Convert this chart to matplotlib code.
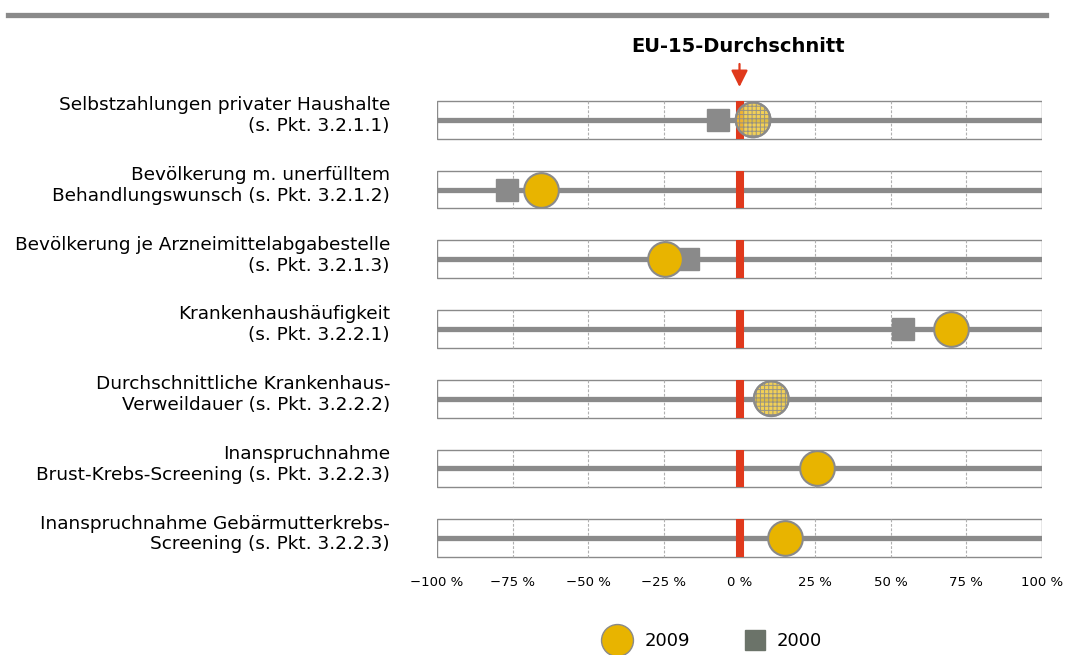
import numpy as np
import matplotlib.pyplot as plt
from matplotlib.lines import Line2D
from matplotlib.patches import Rectangle
import matplotlib.transforms as mtransforms

labels = [
    "Selbstzahlungen privater Haushalte\n(s. Pkt. 3.2.1.1)",
    "Bevölkerung m. unerfülltem\nBehandlungswunsch (s. Pkt. 3.2.1.2)",
    "Bevölkerung je Arzneimittelabgabestelle\n(s. Pkt. 3.2.1.3)",
    "Krankenhaushäufigkeit\n(s. Pkt. 3.2.2.1)",
    "Durchschnittliche Krankenhaus-\nVerweildauer (s. Pkt. 3.2.2.2)",
    "Inanspruchnahme\nBrust-Krebs-Screening (s. Pkt. 3.2.2.3)",
    "Inanspruchnahme Gebärmutterkrebs-\nScreening (s. Pkt. 3.2.2.3)",
]
v2009 = [4.5, -65.5, -24.5, 70, 10.5, 25.5, 15]
v2000 = [-7, -77, -17, 54, np.nan, np.nan, np.nan]
hatched = [True, False, False, False, True, False, False]
ticks = [-100, -75, -50, -25, 0, 25, 50, 75, 100]
tick_labels = ["\u2212100 %", "\u221275 %", "\u221250 %", "\u221225 %", "0 %",
               "25 %", "50 %", "75 %", "100 %"]

W, H = 1066, 655
plt.rcParams['font.family'] = ['DejaVu Sans']
gold = '#e8b400'
grey = '#8a8a8a'
red = '#e0391c'
plt.rcParams['hatch.color'] = '#d9a800'
plt.rcParams['hatch.linewidth'] = 0.7

fig = plt.figure(figsize=(W / 100, H / 100), dpi=100)

ax = fig.add_axes([437 / W, 1 - 573 / H, 605 / W, 488 / H])
ax.set_xlim(-100, 100)
ax.set_ylim(6.5, -0.5)
for s in ax.spines.values():
    s.set_visible(False)
ax.set_yticks([])
ax.set_xticks(ticks)
ax.set_xticklabels(tick_labels, fontsize=9.5)
ax.tick_params(axis='x', length=0, pad=2)

hb = 0.27
n = len(labels)
for i in range(n):
    ax.add_patch(Rectangle((-100, i - hb), 200, 2 * hb, fill=False,
                           edgecolor=grey, lw=1.0, zorder=1))
    for t in ticks[1:-1]:
        if t != 0:
            ax.plot([t, t], [i - hb, i + hb], color='#b0b0b0', lw=0.8,
                    ls=(0, (2.5, 1.5)), zorder=1)
    ax.plot([-100, 100], [i, i], color=grey, lw=3.8, zorder=2,
            solid_capstyle='butt')
    ax.plot([0, 0], [i - hb, i + hb], color=red, lw=5.8, zorder=3,
            solid_capstyle='butt')

ax.plot(v2000, range(n), ls='none', marker='s', ms=16, color=grey,
        mec=grey, mew=1, zorder=4)
for i in range(n):
    if hatched[i]:
        ax.scatter([v2009[i]], [i], s=25 ** 2, facecolor='#f0c838',
                   edgecolor=grey, linewidth=1.5, hatch='++++', alpha=0.85,
                   zorder=5)
        ax.scatter([v2009[i]], [i], s=25 ** 2, facecolor='none',
                   edgecolor=grey, linewidth=1.5, zorder=6)
    else:
        ax.scatter([v2009[i]], [i], s=25 ** 2, facecolor=gold,
                   edgecolor=grey, linewidth=1.5, zorder=5)

tr = mtransforms.blended_transform_factory(fig.transFigure, ax.transData)
for i, lab in enumerate(labels):
    ax.text(390 / W, i - 0.06, lab, transform=tr, ha='right', va='center',
            fontsize=13.3, linespacing=1.2)

# title and arrow
fig.text(738 / W, 1 - 47 / H, "EU-15-Durchschnitt", ha='center', va='center',
         fontsize=14, fontweight='bold')
ax.annotate('', xy=(0, 1 - 87 / H), xytext=(0, 1 - 64 / H),
            xycoords=('data', 'figure fraction'),
            textcoords=('data', 'figure fraction'),
            arrowprops=dict(arrowstyle='-|>,head_width=0.5,head_length=1.0',
                            color=red, lw=1.6, shrinkA=0, shrinkB=0))

# top bar
fig.add_artist(Line2D([8 / W, 1046 / W], [1 - 14.5 / H, 1 - 14.5 / H],
                      transform=fig.transFigure, color=grey, lw=3.8))

# legend
fig.add_artist(Line2D([617 / W], [1 - 640 / H], transform=fig.transFigure,
                      marker='o', ms=23, color=gold, mec=grey, mew=1,
                      ls='none'))
fig.text(645 / W, 1 - 641 / H, "2009", fontsize=13, va='center')
fig.add_artist(Line2D([755 / W], [1 - 640 / H], transform=fig.transFigure,
                      marker='s', ms=15, color='#6b7369', mec='#6b7369',
                      ls='none'))
fig.text(777 / W, 1 - 641 / H, "2000", fontsize=13, va='center')

fig.savefig('out.png', dpi=100)
